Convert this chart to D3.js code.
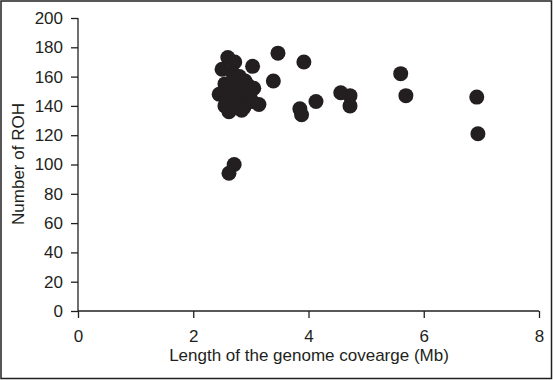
<!DOCTYPE html>
<html>
<head>
<meta charset="utf-8">
<script src="https://cdn.jsdelivr.net/npm/d3@7"></script>
<style>
    body { margin: 0; background: #fff; }
    svg text { font-family: "Liberation Sans", Arial, sans-serif; fill: #231f20; }
    .axis path, .axis line { stroke: #231f20; stroke-width: 1.3; }
</style>
</head>
<body>
<div id="chart"></div>
<script>
// genome coverage length (Mb) and number of ROH
var coverage = [2.60, 2.72, 2.50, 2.68, 2.80, 2.90, 2.55, 2.65, 2.78, 2.95, 3.05, 2.45,
    2.58, 2.70, 2.85, 2.98, 2.55, 2.62, 2.75, 2.88, 2.84, 3.02, 3.14, 2.70, 3.00, 3.03,
    3.47, 3.92, 3.39, 3.85, 3.88, 4.13, 4.56, 4.72, 4.72, 5.60, 5.69, 6.92, 6.94,
    2.62, 2.71];
var rohCount = [173, 170, 165, 163, 160, 157, 155, 153, 152, 154, 152, 148,
    146, 147, 148, 147, 140, 136, 142, 139, 137, 143, 141, 158, 150, 167,
    176, 170, 157, 138, 134, 143, 149, 147, 140, 162, 147, 146, 121,
    94, 100];
var xTicks = [0, 2, 4, 6, 8];
var yTicks = [0, 20, 40, 60, 80, 100, 120, 140, 160, 180, 200];

var data = coverage.map(function(c, i) { return {x: c, y: rohCount[i]}; });

var width = 553, height = 380;
var margin = {top: 18, right: 14, bottom: 69, left: 78};

var svg = d3.select("#chart").append("svg")
    .attr("width", width)
    .attr("height", height);

// frame round the whole figure
svg.append("rect")
    .attr("x", 1).attr("y", 1)
    .attr("width", width - 2.5).attr("height", height - 2.5)
    .attr("fill", "none")
    .attr("stroke", "#231f20")
    .attr("stroke-width", 1.5);

var x = d3.scaleLinear().domain([0, 8]).range([margin.left, width - margin.right]);
var y = d3.scaleLinear().domain([0, 200]).range([height - margin.bottom, margin.top]);

var xAxis = d3.axisBottom(x).tickValues(xTicks).tickSize(7).tickPadding(12);
var yAxis = d3.axisLeft(y).tickValues(yTicks).tickSize(7).tickPadding(8);

var gx = svg.append("g")
    .attr("class", "axis")
    .attr("transform", "translate(0," + y(0) + ")")
    .call(xAxis);
gx.select(".domain").attr("d", "M" + x(0) + ",0H" + x(8));
gx.selectAll("text").style("font-size", "17px");

var gy = svg.append("g")
    .attr("class", "axis")
    .attr("transform", "translate(" + x(0) + ",0)")
    .call(yAxis);
gy.select(".domain").attr("d", "M0," + y(0) + "V" + y(200));
gy.selectAll("text").style("font-size", "17px");

// axis titles
svg.append("text")
    .attr("x", 309)
    .attr("y", 361)
    .attr("text-anchor", "middle")
    .style("font-size", "17px")
    .text("Length of the genome covearge (Mb)");

svg.append("text")
    .attr("transform", "translate(24,164) rotate(-90)")
    .attr("text-anchor", "middle")
    .style("font-size", "17px")
    .text("Number of ROH");

svg.selectAll(".point")
    .data(data)
    .enter()
    .append("circle")
    .attr("class", "point")
    .attr("cx", function(d) { return x(d.x); })
    .attr("cy", function(d) { return y(d.y); })
    .attr("r", 7.5)
    .attr("fill", "#231f20");
</script>
</body>
</html>
